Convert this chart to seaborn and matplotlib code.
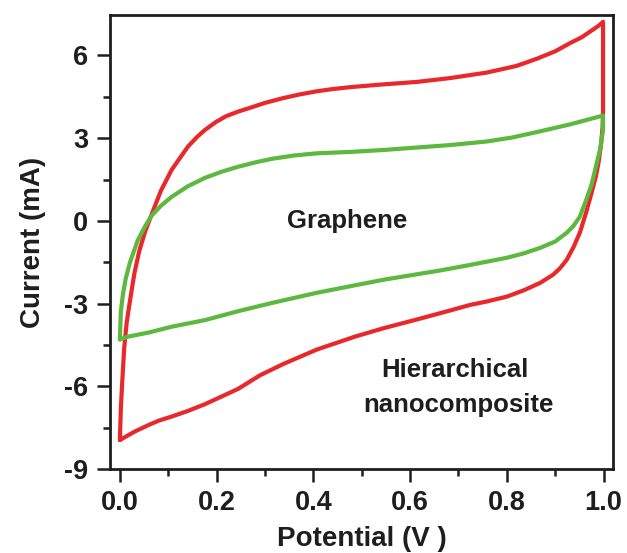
import numpy as np
import pandas as pd
import matplotlib
matplotlib.use("Agg")
import matplotlib.pyplot as plt
import seaborn as sns
from matplotlib.ticker import AutoMinorLocator, FormatStrFormatter

# CV loop of the hierarchical nanocomposite (potential V, current mA), in scan order
hier_v = [0.000, 0.002, 0.005, 0.009, 0.014, 0.020, 0.030, 0.040, 0.052, 0.066,
          0.085, 0.107, 0.125, 0.141, 0.160, 0.176, 0.198, 0.220, 0.244, 0.269,
          0.300, 0.337, 0.370, 0.407, 0.440, 0.476, 0.544, 0.614, 0.683, 0.759,
          0.820, 0.862, 0.900, 0.931, 0.955, 0.975, 0.990, 0.999, 0.999, 0.999,
          0.998, 0.995, 0.990, 0.984, 0.975, 0.964, 0.951, 0.938, 0.924, 0.910,
          0.896, 0.869, 0.835, 0.800, 0.760, 0.724, 0.683, 0.620, 0.544, 0.486,
          0.407, 0.337, 0.290, 0.244, 0.176, 0.140, 0.107, 0.080, 0.060, 0.030,
          0.000]
hier_i = [-7.95, -6.80, -5.80, -4.60, -3.70, -3.00, -1.90, -1.10, -0.40, 0.25,
          1.10, 1.85, 2.30, 2.70, 3.05, 3.30, 3.58, 3.80, 3.96, 4.10,
          4.28, 4.45, 4.58, 4.70, 4.78, 4.85, 4.95, 5.04, 5.18, 5.38,
          5.62, 5.88, 6.15, 6.45, 6.66, 6.90, 7.08, 7.22, 5.50, 4.00,
          3.40, 2.80, 2.15, 1.60, 1.00, 0.30, -0.43, -0.95, -1.41, -1.72,
          -1.95, -2.25, -2.52, -2.75, -2.92, -3.05, -3.25, -3.55, -3.90, -4.20,
          -4.67, -5.20, -5.60, -6.10, -6.65, -6.90, -7.10, -7.25, -7.40, -7.65,
          -7.95]

# CV loop of graphene
gra_v = [0.000, 0.002, 0.006, 0.012, 0.021, 0.037, 0.052, 0.066, 0.085, 0.107,
         0.140, 0.176, 0.210, 0.244, 0.280, 0.314, 0.360, 0.407, 0.476, 0.544,
         0.614, 0.683, 0.759, 0.810, 0.862, 0.931, 0.999, 0.999, 0.996, 0.993,
         0.986, 0.975, 0.965, 0.951, 0.938, 0.924, 0.900, 0.869, 0.835, 0.800,
         0.724, 0.662, 0.544, 0.407, 0.314, 0.244, 0.176, 0.107, 0.060, 0.017,
         0.000]
gra_i = [-4.30, -3.30, -2.70, -2.10, -1.50, -0.70, -0.20, 0.20, 0.55, 0.87,
         1.25, 1.56, 1.78, 1.96, 2.12, 2.25, 2.37, 2.45, 2.50, 2.57,
         2.66, 2.75, 2.88, 3.02, 3.22, 3.50, 3.82, 3.30, 2.95, 2.60,
         2.10, 1.30, 0.80, 0.15, -0.18, -0.43, -0.75, -0.98, -1.18, -1.34,
         -1.60, -1.80, -2.14, -2.61, -2.98, -3.28, -3.60, -3.84, -4.05, -4.20,
         -4.30]

x_ticks = [0.0, 0.2, 0.4, 0.6, 0.8, 1.0]
y_ticks = [-9, -6, -3, 0, 3, 6]

sns.set_theme(style="ticks")
plt.rcParams['font.family'] = ['Liberation Sans', 'DejaVu Sans']
plt.rcParams['font.weight'] = 'bold'
plt.rcParams['axes.unicode_minus'] = False

fig = plt.figure(figsize=(6.27, 5.53), dpi=100)
ax = fig.add_axes([0.175, 0.152, 0.803, 0.82])

sns.lineplot(x=hier_v, y=hier_i, sort=False, estimator=None, color='#e8282b',
             linewidth=3.0, ax=ax, solid_joinstyle='round')
sns.lineplot(x=gra_v, y=gra_i, sort=False, estimator=None, color='#5cb83e',
             linewidth=3.0, ax=ax, solid_joinstyle='round')

ax.set_xlim(-0.021, 1.02)
ax.set_ylim(-9, 7.45)
ax.set_xticks(x_ticks)
ax.set_yticks(y_ticks)
ax.xaxis.set_major_formatter(FormatStrFormatter('%.1f'))
ax.xaxis.set_minor_locator(AutoMinorLocator(2))
ax.yaxis.set_minor_locator(AutoMinorLocator(2))

for s in ax.spines.values():
    s.set_linewidth(2.0)
    s.set_color('#1e1e1e')

ax.tick_params(which='major', direction='out', length=9.5, width=1.8,
               labelsize=19.5, pad=6, color='#1e1e1e', labelcolor='#1e1e1e')
ax.tick_params(which='minor', direction='out', length=5, width=1.8, color='#1e1e1e')
ax.tick_params(top=False, right=False, which='both')
for lab in ax.get_xticklabels() + ax.get_yticklabels():
    lab.set_fontweight('bold')

ax.set_xlabel('Potential (V )', fontsize=20, fontweight='bold', color='#1e1e1e', labelpad=7)
ax.set_ylabel('Current (mA)', fontsize=20, fontweight='bold', color='#1e1e1e', labelpad=13)

ax.text(0.47, 0.0, 'Graphene', fontsize=18.5, fontweight='bold', color='#1e1e1e',
        ha='center', va='center')
ax.text(0.693, -5.4, 'Hierarchical', fontsize=18.5, fontweight='bold', color='#1e1e1e',
        ha='center', va='center')
ax.text(0.70, -6.67, 'nanocomposite', fontsize=18.5, fontweight='bold', color='#1e1e1e',
        ha='center', va='center')

fig.savefig('out.png', dpi=100, facecolor='white')
